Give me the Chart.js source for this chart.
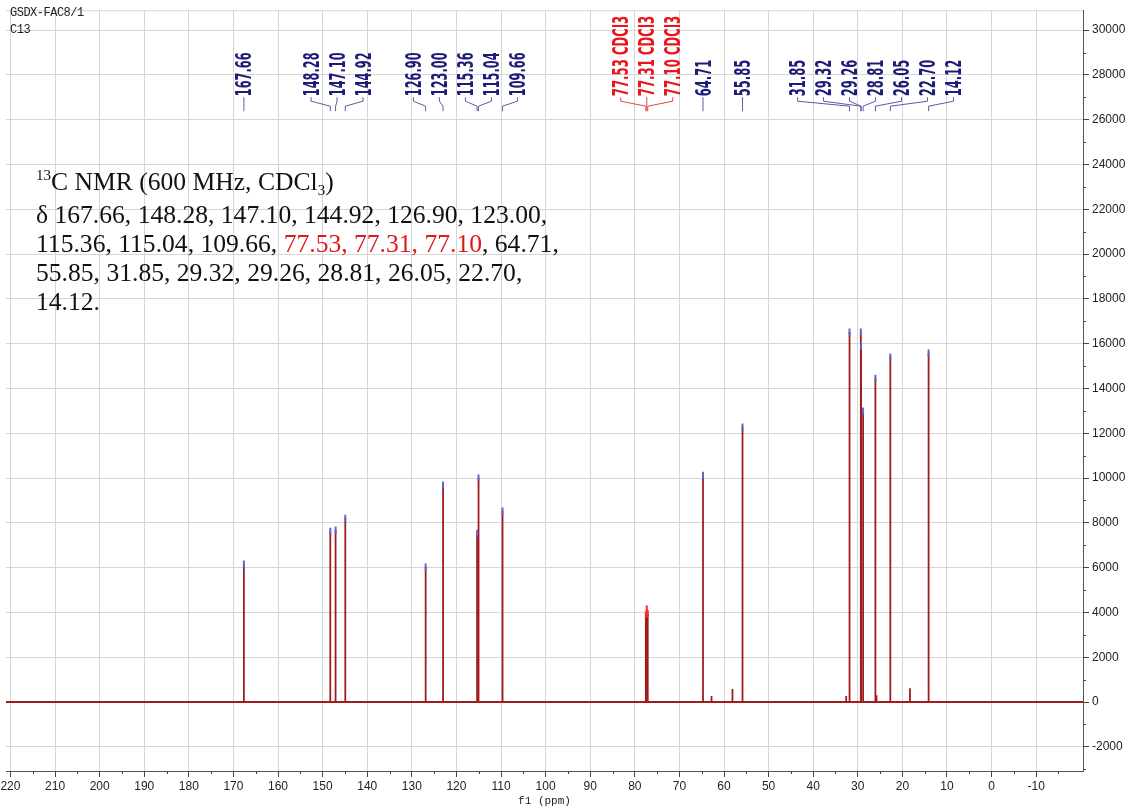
<!DOCTYPE html>
<html>
<head>
<meta charset="utf-8">
<script src="https://cdn.jsdelivr.net/npm/chart.js@4/dist/chart.umd.min.js"></script>
<style>
  body { margin: 0; background: #fff; }
  #wrap { position: relative; width: 1143px; height: 809px; }
  #head {
    position: absolute; left: 10px; top: 5px;
    font: 12px "Liberation Mono", monospace; letter-spacing: -0.5px; line-height: 17px; color: #222;
  }
  #note {
    position: absolute; left: 36px; top: 167px;
    font: 25.6px "Liberation Serif", serif; line-height: 29px; color: #111;
  }
  #note .up { font-size: 15px; position: relative; top: -10px; }
  #note .dn { font-size: 15px; position: relative; top: 5px; }
  #note .red { color: #e01818; }
</style>
</head>
<body>
<div id="wrap">
  <canvas id="nmrChart"></canvas>
  <div id="head">GSDX-FAC8/1<br>C13</div>
  <div id="note">
    <span class="up">13</span>C NMR (600 MHz, CDCl<span class="dn">3</span>)<br>
    δ 167.66, 148.28, 147.10, 144.92, 126.90, 123.00,<br>
    115.36, 115.04, 109.66, <span class="red">77.53, 77.31, 77.10</span>, 64.71,<br>
    55.85, 31.85, 29.32, 29.26, 28.81, 26.05, 22.70,<br>
    14.12.
  </div>
</div>
<script>
// picked peaks (ppm) and their heights
const peakShifts = [167.66, 148.28, 147.10, 144.92, 126.90, 123.00, 115.36, 115.04, 109.66,
  77.53, 77.31, 77.10, 64.71, 55.85, 31.85, 29.32, 29.26, 28.81, 26.05, 22.70, 14.12];
const peakHeights = [6160, 7630, 7680, 8210, 6030, 9690, 7540, 10000, 8530,
  3900, 4150, 3950, 10130, 12280, 16520, 16520, 15890, 12990, 14460, 15400, 15580];
const peakLabels = ["167.66", "148.28", "147.10", "144.92", "126.90", "123.00", "115.36", "115.04", "109.66",
  "77.53 CDCl3", "77.31 CDCl3", "77.10 CDCl3", "64.71", "55.85", "31.85", "29.32", "29.26", "28.81",
  "26.05", "22.70", "14.12"];
// small unlabelled impurity peaks
const minorShifts = [62.8, 58.1, 32.6, 25.8, 18.3];
const minorHeights = [270, 580, 270, 300, 620];

// axis ranges and ticks
const xMin = -20.5, xMax = 221;
const yMin = -3080, yMax = 30890;
const xTickLow = -15;
const xTickStep = 5, xLabelStep = 10;
const yTickStep = 1000, yLabelStep = 2000;

const labelBlue = "#1c1c78";
const labelRed = "#e8161c";

// spectrum trace: baseline with a spike at every peak, ordered high ppm -> low ppm
let allPeaks = [];
peakShifts.forEach((s, i) => allPeaks.push([s, peakHeights[i]]));
minorShifts.forEach((s, i) => allPeaks.push([s, minorHeights[i]]));
allPeaks.sort((a, b) => b[0] - a[0]);
const trace = [{ x: xMax, y: 0 }];
allPeaks.forEach(p => {
  trace.push({ x: p[0], y: 0 }, { x: p[0], y: p[1] }, { x: p[0], y: 0 });
});
trace.push({ x: xMin, y: 0 });

const isSolvent = peakLabels.map(l => l.indexOf("CDCl3") >= 0);

function stepTicks(lo, hi, step) {
  const out = [];
  for (let v = Math.ceil(lo / step) * step; v <= hi; v += step) out.push({ value: v });
  return out;
}

// spread label positions so they don't overlap (merge clusters around their mean)
function spreadLabels(xs, gap) {
  let clusters = xs.map(x => ({ sum: x, n: 1 }));
  let merged = true;
  while (merged) {
    merged = false;
    for (let i = 0; i < clusters.length - 1; i++) {
      const a = clusters[i], b = clusters[i + 1];
      const aRight = a.sum / a.n + (a.n - 1) / 2 * gap;
      const bLeft = b.sum / b.n - (b.n - 1) / 2 * gap;
      if (bLeft - aRight < gap) {
        clusters.splice(i, 2, { sum: a.sum + b.sum, n: a.n + b.n });
        merged = true;
        break;
      }
    }
  }
  const out = [];
  clusters.forEach(c => {
    const c0 = c.sum / c.n - (c.n - 1) / 2 * gap;
    for (let k = 0; k < c.n; k++) out.push(c0 + k * gap);
  });
  return out;
}

const peakLabelPlugin = {
  id: "peakLabels",
  beforeDatasetsDraw(chart) {
    const { ctx, chartArea } = chart;
    ctx.save();
    ctx.strokeStyle = "#d6d6d6";
    ctx.lineWidth = 1;
    ctx.beginPath();
    ctx.moveTo(chartArea.left, chartArea.top + 0.5);
    ctx.lineTo(chartArea.right, chartArea.top + 0.5);
    ctx.stroke();
    ctx.restore();
  },
  afterDraw(chart) {
    const { ctx, chartArea } = chart;
    const xs = chart.scales.x, ys = chart.scales.y;

    // minor ticks (shorter than the major ones)
    ctx.save();
    ctx.strokeStyle = "#444";
    ctx.lineWidth = 1;
    ctx.beginPath();
    xs.ticks.forEach(t => {
      if (t.value % xLabelStep !== 0) {
        const px = Math.round(xs.getPixelForValue(t.value)) + 0.5;
        ctx.moveTo(px, chartArea.bottom);
        ctx.lineTo(px, chartArea.bottom + 3);
      }
    });
    ys.ticks.forEach(t => {
      if (t.value % yLabelStep !== 0) {
        const py = Math.round(ys.getPixelForValue(t.value)) + 0.5;
        ctx.moveTo(chartArea.right, py);
        ctx.lineTo(chartArea.right + 3, py);
      }
    });
    ctx.stroke();
    ctx.restore();

    const px = peakShifts.map(s => xs.getPixelForValue(s));
    const lx = spreadLabels(px, 26);
    const top = chartArea.top;
    ctx.save();
    ctx.lineWidth = 1;
    peakLabels.forEach((txt, i) => {
      const solvent = isSolvent[i];
      // connector
      ctx.strokeStyle = solvent ? "#e04848" : "#5a5aa8";
      ctx.beginPath();
      ctx.moveTo(lx[i], top + 87);
      ctx.lineTo(lx[i], top + 91);
      ctx.lineTo(px[i], top + 96);
      ctx.lineTo(px[i], top + 101);
      ctx.stroke();
      // rotated condensed label
      ctx.save();
      ctx.translate(lx[i], top + 86);
      ctx.rotate(-Math.PI / 2);
      ctx.font = "bold 21px 'DejaVu Sans', sans-serif";
      const w = ctx.measureText(txt).width;
      ctx.scale((7.3 * txt.length) / w, 1);
      ctx.fillStyle = solvent ? labelRed : labelBlue;
      ctx.textAlign = "left";
      ctx.textBaseline = "alphabetic";
      ctx.fillText(txt, 0, 7.6);
      ctx.restore();
    });
    ctx.restore();
  }
};

const markerData = peakShifts.map((s, i) => ({ x: s, y: peakHeights[i] }));

new Chart(document.getElementById("nmrChart"), {
  type: "line",
  data: {
    datasets: [
      {
        label: "spectrum",
        data: trace,
        borderColor: "#a01c1c",
        borderWidth: 1.8,
        pointRadius: 0,
        tension: 0,
        fill: false,
        order: 2
      },
      {
        type: "scatter",
        label: "peaks",
        data: markerData,
        pointStyle: "line",
        rotation: 90,
        radius: 3.5,
        borderWidth: 2,
        borderColor: isSolvent.map(s => (s ? "#ff2a2a" : "#6464cc")),
        order: 1
      }
    ]
  },
  options: {
    responsive: true,
    maintainAspectRatio: false,
    animation: false,
    events: [],
    layout: { padding: { left: 5, top: 10, right: 0, bottom: 0 } },
    plugins: { legend: { display: false }, tooltip: { enabled: false } },
    scales: {
      x: {
        type: "linear",
        reverse: true,
        min: xMin,
        max: xMax,
        afterBuildTicks(scale) {
          scale.ticks = stepTicks(xTickLow, xMax, xTickStep);
        },
        afterFit(scale) { scale.height = 38; },
        ticks: {
          autoSkip: false,
          maxRotation: 0,
          padding: 2,
          color: "#222",
          font: { family: "'Liberation Sans', sans-serif", size: 12 },
          callback: v => (v % xLabelStep === 0 ? String(v) : "")
        },
        grid: {
          color: c => (c.tick && c.tick.value % xLabelStep === 0 ? "#d6d6d6" : "rgba(0,0,0,0)"),
          tickColor: c => (c.tick && c.tick.value % xLabelStep === 0 ? "#444" : "rgba(0,0,0,0)"),
          tickLength: 6
        },
        border: { display: true, color: "#555", width: 1 },
        title: {
          display: true,
          text: "f1 (ppm)",
          color: "#222",
          padding: { top: 0, bottom: 1 },
          font: { family: "'Liberation Mono', monospace", size: 11 }
        }
      },
      y: {
        position: "right",
        min: yMin,
        max: yMax,
        afterBuildTicks(scale) {
          scale.ticks = stepTicks(yMin, yMax, yTickStep);
        },
        afterFit(scale) { scale.width = 60; },
        ticks: {
          autoSkip: false,
          padding: 3,
          color: "#222",
          font: { family: "'Liberation Sans', sans-serif", size: 12 },
          callback: v => (v % yLabelStep === 0 ? String(v) : "")
        },
        grid: {
          color: c => (c.tick && c.tick.value % yLabelStep === 0 ? "#d6d6d6" : "rgba(0,0,0,0)"),
          tickColor: c => (c.tick && c.tick.value % yLabelStep === 0 ? "#444" : "rgba(0,0,0,0)"),
          tickLength: 6
        },
        border: { display: true, color: "#555", width: 1 }
      }
    }
  },
  plugins: [peakLabelPlugin]
});
</script>
</body>
</html>
